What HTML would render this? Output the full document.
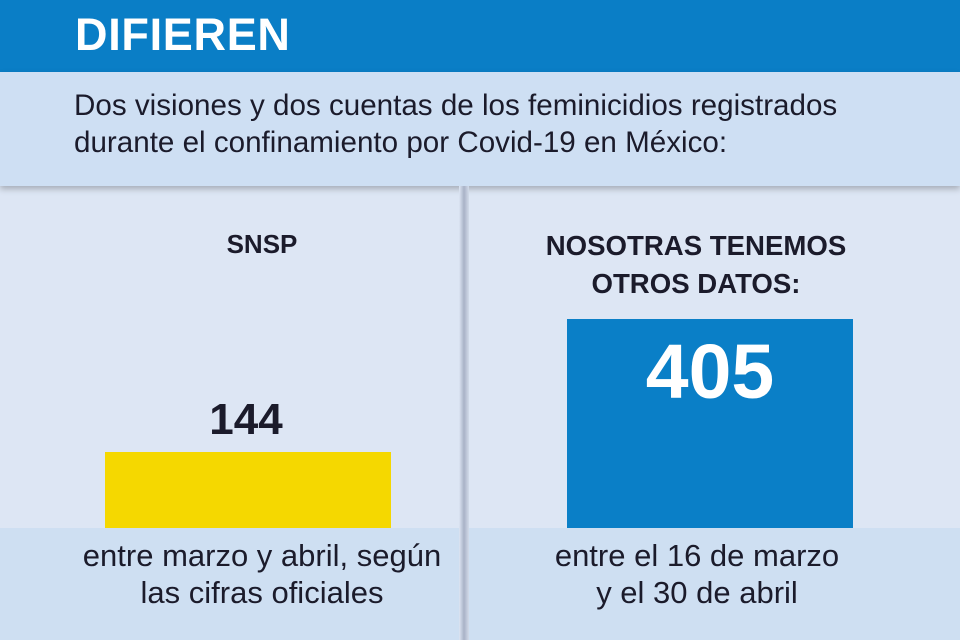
<!DOCTYPE html>
<html><head><meta charset="utf-8"><style>
body{margin:0;width:960px;height:640px;overflow:hidden;background:#dde6f4;font-family:"Liberation Sans",sans-serif;position:relative}
div{position:absolute}
.t{color:#1b1b2b;text-align:center;white-space:nowrap}
</style></head><body>
<div style="left:0;top:0;width:960px;height:72px;background:#0a7ec6"></div>
<div style="left:75px;top:9px;color:#fff;font-weight:bold;font-size:45px;letter-spacing:0.7px">DIFIEREN</div>
<div style="left:0;top:72px;width:960px;height:114px;background:#cedff3;box-shadow:0 3px 6px rgba(0,0,0,0.25)"></div>
<div style="left:74px;top:87px;font-size:29.6px;line-height:37px;color:#1b1b2b;white-space:nowrap">Dos visiones y dos cuentas de los feminicidios registrados<br>durante el confinamiento por Covid-19 en México:</div>
<div style="left:0;top:528px;width:960px;height:112px;background:#cedff2"></div>
<div style="left:459px;top:186px;width:10px;height:454px;background:linear-gradient(90deg,#dde6f4,#a9b2c6 50%,#d2dbea)"></div>
<div class="t" style="left:112px;top:229px;width:300px;font-weight:bold;font-size:26px">SNSP</div>
<div class="t" style="left:496px;top:227px;width:400px;font-weight:bold;font-size:27.6px;line-height:38px">NOSOTRAS TENEMOS<br>OTROS DATOS:</div>
<div class="t" style="left:146px;top:395px;width:200px;font-weight:bold;font-size:44px">144</div>
<div style="left:105px;top:452px;width:286px;height:76px;background:#f5d800"></div>
<div style="left:567px;top:319px;width:286px;height:209px;background:#0a7fc7"></div>
<div style="left:567px;top:328px;width:286px;color:#fff;text-align:center;font-weight:bold;font-size:77px">405</div>
<div class="t" style="left:42px;top:537px;width:440px;font-size:31px;line-height:37px">entre marzo y abril, según<br>las cifras oficiales</div>
<div class="t" style="left:477px;top:537px;width:440px;font-size:31px;line-height:37px">entre el 16 de marzo<br>y el 30 de abril</div>
</body></html>
